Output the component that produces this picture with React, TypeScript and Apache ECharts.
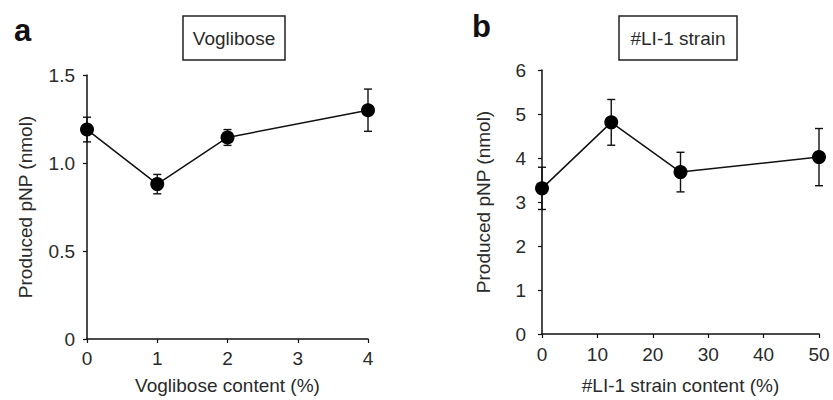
import React, { useEffect, useRef } from "react";
import * as echarts from "echarts";

const voglX = [0, 1, 2, 4];
const voglY = [1.19, 0.88, 1.145, 1.3];
const voglErr = [0.07, 0.055, 0.045, 0.12];
const voglTicksY = [0, 0.5, 1.0, 1.5];

const strainX = [0, 12.5, 25, 50];
const strainY = [3.31, 4.81, 3.68, 4.02];
const strainErr = [0.48, 0.52, 0.45, 0.65];

const FONT = "Liberation Sans, Arial, sans-serif";
const FS = 19;
const TXT = "#2a2a2a";

function errData(xs: number[], ys: number[], es: number[]) {
  return xs.map((x, i) => [x, ys[i] - es[i], ys[i] + es[i]]);
}

function errRender(params: any, api: any) {
  const x = api.value(0);
  const lo = api.coord([x, api.value(1)]);
  const hi = api.coord([x, api.value(2)]);
  const w = 4;
  const style = { stroke: "#111", lineWidth: 1.4 };
  return {
    type: "group",
    children: [
      { type: "line", shape: { x1: lo[0], y1: lo[1], x2: hi[0], y2: hi[1] }, style },
      { type: "line", shape: { x1: lo[0] - w, y1: lo[1], x2: lo[0] + w, y2: lo[1] }, style },
      { type: "line", shape: { x1: hi[0] - w, y1: hi[1], x2: hi[0] + w, y2: hi[1] }, style },
    ],
  };
}

export default function App() {
  const ref = useRef<HTMLDivElement>(null);
  useEffect(() => {
    const chart = echarts.init(ref.current!, null, { renderer: "svg" });
    const axisCommon = {
      axisLine: { show: true, lineStyle: { color: "#111", width: 1.5 } },
      axisTick: { show: true, length: 4, lineStyle: { color: "#111", width: 1.2 } },
      axisLabel: { color: TXT, fontSize: FS, fontFamily: FONT, margin: 11 },
      splitLine: { show: false },
      nameTextStyle: { color: TXT, fontSize: FS, fontFamily: FONT },
    };
    chart.setOption({
      animation: false,
      backgroundColor: "#fff",
      grid: [
        { left: 87, right: 465, top: 75, bottom: 59 },
        { left: 542, right: 14, top: 70, bottom: 64 },
      ],
      xAxis: [
        {
          ...axisCommon,
          gridIndex: 0,
          type: "value",
          min: 0,
          max: 4,
          interval: 1,
          name: "Voglibose content (%)",
          nameLocation: "middle",
          nameGap: 37,
          axisLabel: { ...axisCommon.axisLabel, margin: 10 },
        },
        {
          ...axisCommon,
          gridIndex: 1,
          type: "value",
          min: 0,
          max: 50,
          interval: 10,
          name: "#LI-1 strain content (%)",
          nameLocation: "middle",
          nameGap: 42,
          axisLabel: { ...axisCommon.axisLabel, margin: 11 },
        },
      ],
      yAxis: [
        {
          ...axisCommon,
          gridIndex: 0,
          type: "value",
          min: voglTicksY[0],
          max: voglTicksY[voglTicksY.length - 1],
          interval: 0.5,
          name: "Produced pNP (nmol)",
          nameLocation: "middle",
          nameGap: 52,
          axisLabel: {
            ...axisCommon.axisLabel,
            margin: 12,
            formatter: (v: number) => (v === 0 ? "0" : v.toFixed(1)),
          },
        },
        {
          ...axisCommon,
          gridIndex: 1,
          type: "value",
          min: 0,
          max: 6,
          interval: 1,
          name: "Produced pNP (nmol)",
          nameLocation: "middle",
          nameGap: 49,
          axisLabel: { ...axisCommon.axisLabel, margin: 16 },
        },
      ],
      graphic: [
        { type: "text", left: 14, top: 15, style: { text: "a", font: `bold 31px ${FONT}`, fill: "#111" } },
        { type: "text", left: 472, top: 11, style: { text: "b", font: `bold 31px ${FONT}`, fill: "#111" } },
        {
          type: "rect",
          shape: { x: 183, y: 16, width: 102, height: 44 },
          style: { fill: "#fff", stroke: "#222", lineWidth: 1.5 },
        },
        {
          type: "text",
          x: 234,
          y: 38.5,
          style: { text: "Voglibose", font: `${FS}px ${FONT}`, fill: TXT, textAlign: "center", textVerticalAlign: "middle" },
        },
        {
          type: "rect",
          shape: { x: 619, y: 16, width: 118, height: 44 },
          style: { fill: "#fff", stroke: "#222", lineWidth: 1.5 },
        },
        {
          type: "text",
          x: 678,
          y: 38.5,
          style: { text: "#LI-1 strain", font: `${FS}px ${FONT}`, fill: TXT, textAlign: "center", textVerticalAlign: "middle" },
        },
      ],
      series: [
        {
          type: "custom",
          xAxisIndex: 0,
          yAxisIndex: 0,
          renderItem: errRender,
          data: errData(voglX, voglY, voglErr),
          encode: { x: 0, y: [1, 2] },
          z: 1,
          clip: false,
        },
        {
          type: "line",
          xAxisIndex: 0,
          yAxisIndex: 0,
          data: voglX.map((x, i) => [x, voglY[i]]),
          symbol: "circle",
          symbolSize: 14,
          itemStyle: { color: "#000" },
          lineStyle: { color: "#111", width: 1.5 },
          z: 3,
        },
        {
          type: "custom",
          xAxisIndex: 1,
          yAxisIndex: 1,
          renderItem: errRender,
          data: errData(strainX, strainY, strainErr),
          encode: { x: 0, y: [1, 2] },
          z: 1,
          clip: false,
        },
        {
          type: "line",
          xAxisIndex: 1,
          yAxisIndex: 1,
          data: strainX.map((x, i) => [x, strainY[i]]),
          symbol: "circle",
          symbolSize: 14,
          itemStyle: { color: "#000" },
          lineStyle: { color: "#111", width: 1.5 },
          z: 3,
        },
      ],
    });
    return () => chart.dispose();
  }, []);
  return <div ref={ref} style={{ width: 833, height: 400, position: "absolute", left: 0, top: 0 }} />;
}
